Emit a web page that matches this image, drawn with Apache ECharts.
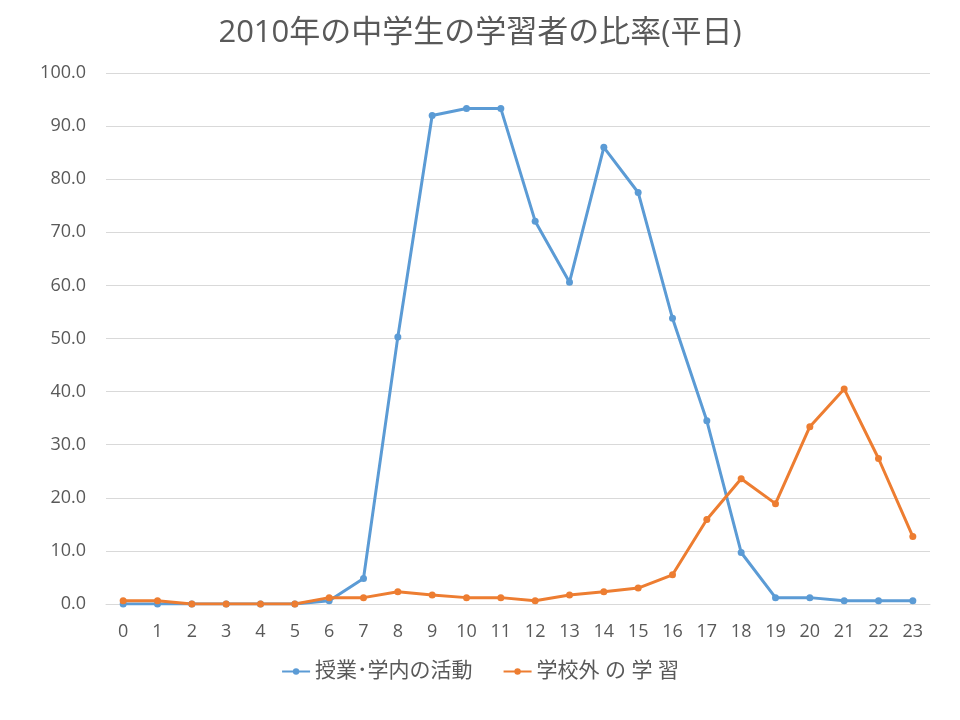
<!DOCTYPE html>
<html><head><meta charset="utf-8">
<script src="https://cdn.jsdelivr.net/npm/echarts@6/dist/echarts.min.js"></script>
<style>html,body{margin:0;padding:0;background:#fff}#c{width:960px;height:720px}</style>
</head><body><div id="c"></div>
<script>
const hours = ['0','1','2','3','4','5','6','7','8','9','10','11','12','13','14','15','16','17','18','19','20','21','22','23'];
const inSchool = [0,0,0,0,0,0,0.6,4.8,50.3,92.0,93.3,93.3,72.1,60.6,86.0,77.5,53.8,34.5,9.7,1.2,1.2,0.6,0.6,0.6];
const outSchool = [0.6,0.6,0,0,0,0,1.2,1.2,2.3,1.7,1.2,1.2,0.6,1.7,2.3,3.0,5.5,15.9,23.6,18.9,33.4,40.5,27.4,12.7];
const seriesNames = ['授業･学内の活動','学校外 の 学 習'];
const font = '"Open Sans", "Noto Sans CJK JP", sans-serif';
const chart = echarts.init(document.getElementById('c'));
chart.setOption({
  animation:false,
  title:{text:'2010年の中学生の学習者の比率(平日)',left:'center',top:13,textStyle:{fontFamily:font,fontSize:31,fontWeight:'normal',color:'#595959'}},
  grid:{left:106,right:30,top:73,bottom:116},
  legend:{bottom:33,left:'center',itemWidth:28,itemHeight:8,itemGap:30,textStyle:{fontFamily:font,fontSize:21,color:'#595959'},data:seriesNames},
  xAxis:{type:'category',data:hours,boundaryGap:true,
    axisLine:{lineStyle:{color:'#d9d9d9'}},axisTick:{show:false},
    axisLabel:{fontFamily:font,fontSize:18,color:'#595959',margin:19}},
  yAxis:{type:'value',min:0,max:100,interval:10,
    axisLine:{show:false},axisTick:{show:false},
    splitLine:{lineStyle:{color:'#d9d9d9'}},
    axisLabel:{fontFamily:font,fontSize:18,color:'#595959',margin:20,formatter:v=>v.toFixed(1)}},
  series:[
    {name:seriesNames[0],type:'line',data:inSchool,symbol:'circle',symbolSize:7,
     lineStyle:{width:3,color:'#5b9bd5'},itemStyle:{color:'#5b9bd5'}},
    {name:seriesNames[1],type:'line',data:outSchool,symbol:'circle',symbolSize:7,
     lineStyle:{width:3,color:'#ed7d31'},itemStyle:{color:'#ed7d31'}}
  ]
});
</script></body></html>
